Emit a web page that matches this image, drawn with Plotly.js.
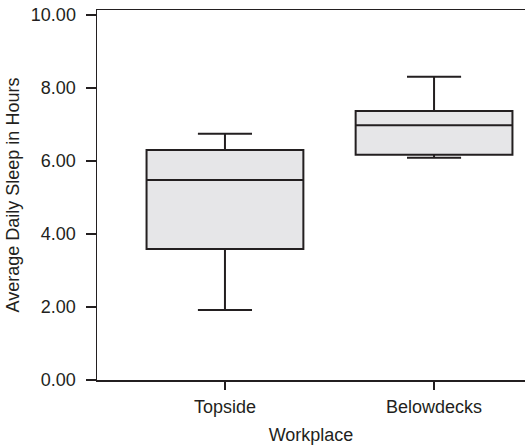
<!DOCTYPE html>
<html>
<head>
<meta charset="utf-8">
<script src="https://cdn.plot.ly/plotly-3.0.1.min.js"></script>
<style>html,body{margin:0;padding:0;background:#fff;}#chart{width:525px;height:448px;}</style>
</head>
<body>
<div id="chart"></div>
<script>
const categories = ['Topside', 'Belowdecks'];
const lowerWhisker = [1.92, 6.09];
const q1Values = [3.59, 6.17];
const medianValues = [5.48, 6.98];
const q3Values = [6.30, 7.37];
const upperWhisker = [6.75, 8.31];
const yTickValues = [0, 2, 4, 6, 8, 10];

const fontFamily = '"Liberation Sans", Arial, Helvetica, sans-serif';
const ink = '#231f20';

const trace = {
  type: 'box',
  x: categories,
  q1: q1Values,
  median: medianValues,
  q3: q3Values,
  lowerfence: lowerWhisker,
  upperfence: upperWhisker,
  boxpoints: false,
  width: 0.75,
  whiskerwidth: 0.345,
  fillcolor: '#e6e6e8',
  line: {color: ink, width: 2},
  hoverinfo: 'skip',
  showlegend: false
};

const layout = {
  width: 525,
  height: 448,
  margin: {l: 97, r: 0, t: 10, b: 68},
  paper_bgcolor: '#ffffff',
  plot_bgcolor: '#ffffff',
  font: {family: fontFamily, color: ink, size: 18},
  xaxis: {
    type: 'category',
    range: [-0.612, 1.435],
    showgrid: false,
    zeroline: false,
    showline: true,
    mirror: true,
    linecolor: ink,
    linewidth: 1.5,
    ticks: 'outside',
    ticklen: 8,
    tickwidth: 1.5,
    tickcolor: ink,
    ticklabelstandoff: 2,
    tickfont: {size: 18, family: fontFamily, color: ink},
    title: {text: 'Workplace', font: {size: 18, family: fontFamily, color: ink}, standoff: 12}
  },
  yaxis: {
    range: [0, 10.14],
    tickvals: yTickValues,
    tickformat: '.2f',
    showgrid: false,
    zeroline: false,
    showline: true,
    linecolor: ink,
    linewidth: 1.5,
    ticks: 'outside',
    ticklen: 10,
    tickwidth: 1.5,
    tickcolor: ink,
    ticklabelstandoff: 6,
    tickfont: {size: 18, family: fontFamily, color: ink},
    title: {text: 'Average Daily Sleep in Hours', font: {size: 18, family: fontFamily, color: ink}, standoff: 6}
  }
};

Plotly.newPlot('chart', [trace], layout, {displayModeBar: false, staticPlot: true});
</script>
</body>
</html>
